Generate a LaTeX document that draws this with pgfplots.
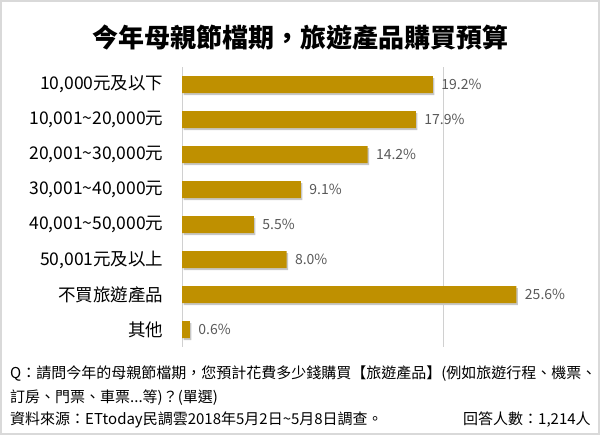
\documentclass[border=0pt]{standalone}
\usepackage{pgfplots}
\pgfplotsset{compat=1.18}
\usepackage{fontspec}
\setmainfont{Noto Sans CJK TC}
\definecolor{bargold}{HTML}{BF9000}
\definecolor{labelgray}{HTML}{595959}
\definecolor{framegray}{HTML}{D9D9D9}
\definecolor{gridgray}{HTML}{D0D0D0}

\begin{document}
\begin{tikzpicture}
\useasboundingbox (0,0) rectangle (600bp,-435bp);
\draw[framegray, line width=2bp] (1bp,-1bp) rectangle (599bp,-434bp);

\node[font=\fontsize{26bp}{29bp}\selectfont\bfseries] at (300bp,-38bp) {今年母親節檔期，旅遊產品購買預算};

\begin{axis}[
  at={(182bp,-67bp)}, anchor=north west,
  scale only axis, width=405bp, height=280bp,
  xmin=0, xmax=31, ymin=-0.5, ymax=7.5, y dir=reverse,
  axis lines*=left,
  axis line style={-},
  x axis line style={draw=none},
  y axis line style={draw=gridgray, line width=1bp},
  xtick=\empty,
  ytick={0,...,7},
  yticklabels={{10,000元及以下}, {10,001\textasciitilde20,000元}, {20,001\textasciitilde30,000元}, {30,001\textasciitilde40,000元}, {40,001\textasciitilde50,000元}, {50,001元及以上}, {不買旅遊產品}, {其他}},
  yticklabel style={font=\fontsize{17.5bp}{19bp}\selectfont, text=black, xshift=-15bp},
  major tick length=0,
  clip=false,
]
% the one vertical gridline, at 20%
\addplot[gridgray, line width=1.2bp, no marks, forget plot] coordinates {(20,-0.5) (20,7.5)};
% soft shadow under the bars
\addplot[xbar, bar width=17bp, bar shift=0pt, fill=black!22, draw=none, xshift=1.5bp, yshift=-2bp, forget plot]
  coordinates {(19.2,0) (17.9,1) (14.2,2) (9.1,3) (5.5,4) (8.0,5) (25.6,6) (0.6,7)};
\addplot[xbar, bar width=17bp, bar shift=0pt, fill=bargold, draw=none,
  nodes near coords={\pgfmathprintnumber[fixed,fixed zerofill,precision=1,assume math mode=true]{\pgfplotspointmeta}\%},
  nodes near coords style={font=\fontsize{14bp}{16bp}\selectfont, text=labelgray, anchor=west, xshift=5bp},
  point meta=x]
  coordinates {(19.2,0) (17.9,1) (14.2,2) (9.1,3) (5.5,4) (8.0,5) (25.6,6) (0.6,7)};
\end{axis}

\begin{scope}[every node/.style={font=\fontsize{15bp}{17bp}\selectfont, anchor=west, inner sep=0pt}]
\node at (10bp,-374bp) {Q：請問今年的母親節檔期，您預計花費多少錢購買【旅遊產品】(例如旅遊行程、機票、};
\node at (10bp,-398bp) {訂房、門票、車票...等)？(單選)};
\node at (10bp,-420bp) {資料來源：ETtoday民調雲2018年5月2日\textasciitilde5月8日調查。};
\node at (463bp,-420bp) {回答人數：1,214人};
\end{scope}
\end{tikzpicture}
\end{document}
